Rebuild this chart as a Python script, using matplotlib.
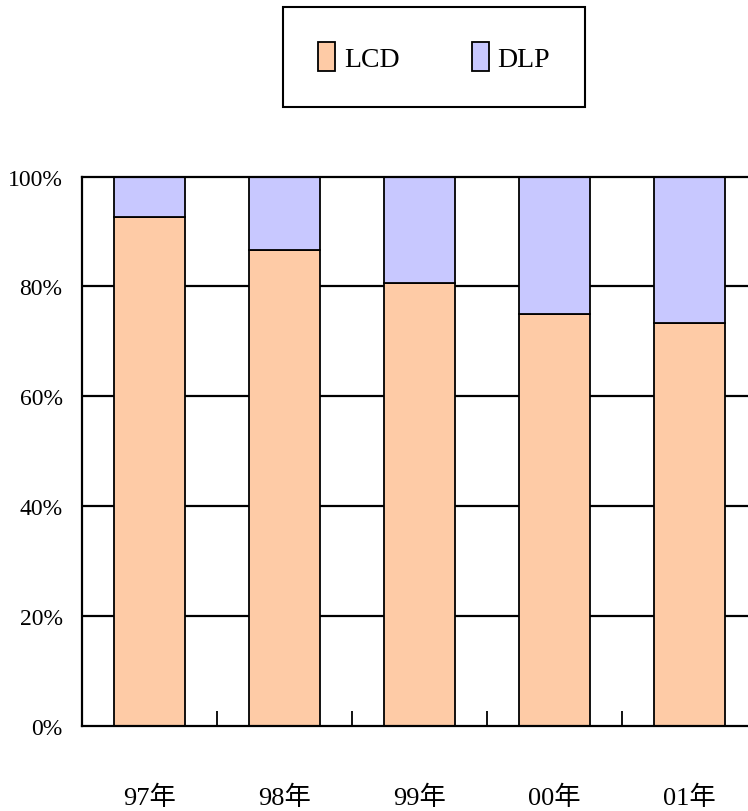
import matplotlib
matplotlib.use("Agg")
import matplotlib.pyplot as plt
from matplotlib.patches import Patch
import numpy as np

categories = ["97年", "98年", "99年", "00年", "01年"]
lcd_share = [92.6, 86.6, 80.7, 74.9, 73.4]
dlp_share = [100 - v for v in lcd_share]
y_ticks = [0, 20, 40, 60, 80, 100]
y_tick_labels = ["0%", "20%", "40%", "60%", "80%", "100%"]

LCD_COLOR = "#FECBA6"
DLP_COLOR = "#C8C8FF"
FONT = ["Liberation Serif", "Noto Sans CJK SC"]

plt.rcParams["font.family"] = FONT

W, H = 748, 812
fig = plt.figure(figsize=(W / 100, H / 100), dpi=100)
ax = fig.add_axes([82 / W, 1 - 727 / H, (757 - 82) / W, (727 - 177.5) / H])

x = np.arange(len(categories))
ax.bar(x, lcd_share, width=0.53, color=LCD_COLOR, edgecolor="black",
       linewidth=1.3, zorder=3)
ax.bar(x, dlp_share, bottom=lcd_share, width=0.53, color=DLP_COLOR,
       edgecolor="black", linewidth=1.3, zorder=3)

ax.set_xlim(-0.5, len(categories) - 0.5)
ax.set_ylim(0, 100)

ax.set_yticks(y_ticks)
ax.set_yticklabels(y_tick_labels, fontsize=17)
ax.tick_params(axis="y", length=0, pad=14)
for v in y_ticks[1:-1]:
    ax.axhline(v, color="black", linewidth=1.6, zorder=1)

ax.set_xticks(x)
ax.set_xticklabels(categories, fontsize=19)
ax.tick_params(axis="x", which="major", length=0, pad=42)
ax.set_xticks(x[:-1] + 0.5, minor=True)
ax.tick_params(axis="x", which="minor", direction="in", length=11,
               width=1.3, color="black")

for side in ("left", "bottom", "top"):
    ax.spines[side].set_linewidth(1.6)
    ax.spines[side].set_zorder(4)
ax.spines["right"].set_visible(False)

handles = [Patch(facecolor=LCD_COLOR, edgecolor="black", linewidth=1.3),
           Patch(facecolor=DLP_COLOR, edgecolor="black", linewidth=1.3)]
leg = fig.legend(handles, ["LCD", "DLP"], loc="center",
                 bbox_to_anchor=(434 / W, 1 - 58 / H), ncol=2,
                 fontsize=20, frameon=True, fancybox=False, shadow=False,
                 handlelength=0.62, handleheight=1.2, handletextpad=0.3,
                 columnspacing=2.6, borderpad=1.25, borderaxespad=0)
frame = leg.get_frame()
frame.set_edgecolor("black")
frame.set_linewidth(1.5)
frame.set_alpha(1)

fig.savefig("out.png", dpi=100)
